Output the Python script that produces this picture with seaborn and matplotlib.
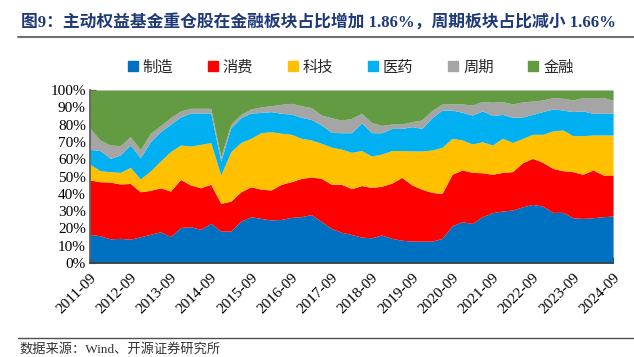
#!/usr/bin/env python3

import numpy as np
import matplotlib.pyplot as plt
import seaborn as sns
import pandas as pd
from matplotlib.lines import Line2D

# quarter labels 2011-09 ... 2024-09
quarters = [f'{y}-{m:02d}' for y in range(2011, 2025) for m in (3, 6, 9, 12)][2:-1]

sectors = ['制造', '消费', '科技', '医药', '周期', '金融']
colors = ['#0070C0', '#FF0000', '#FFC000', '#00B0F0', '#A5A5A5', '#629B42']

# share of holdings per sector (%)
manufacturing = [16.6, 15.8, 14.0, 14.3, 13.8, 15.2, 16.6, 18.1, 15.3, 20.6, 21.0, 19.5, 23.0, 18.5,
                 18.5, 24.3, 26.8, 25.8, 24.9, 25.2, 26.4, 26.8, 28.0, 24.0, 20.0, 17.8, 16.5, 15.0,
                 14.6, 16.2, 14.3, 13.2, 12.7, 12.7, 12.7, 14.3, 21.6, 23.9, 22.9, 26.8, 29.1, 30.1,
                 30.6, 32.5, 33.9, 32.9, 29.3, 29.3, 26.2, 25.8, 26.2, 26.8, 27.2]
consumer = [31.4, 31.2, 32.8, 31.4, 32.2, 26.0, 25.4, 25.4, 26.3, 27.7, 24.1, 24.0, 22.5, 16.0,
            17.3, 16.9, 17.3, 16.9, 17.3, 20.3, 20.6, 22.1, 21.7, 24.9, 25.5, 27.7, 26.5, 29.8,
            29.1, 28.2, 31.9, 36.3, 32.4, 29.9, 28.1, 26.0, 29.7, 29.9, 29.5, 25.4, 22.2, 22.3,
            22.2, 25.5, 26.6, 25.3, 25.4, 24.1, 26.6, 25.5, 27.6, 24.1, 23.7]
tech = [9.0, 6.4, 6.0, 6.7, 9.3, 7.4, 11.2, 15.5, 22.8, 19.9, 22.5, 25.1, 24.1, 16.4,
        28.6, 28.5, 28.0, 32.6, 33.7, 29.5, 27.4, 23.2, 21.4, 20.3, 21.5, 20.3, 21.0, 20.2,
        18.1, 18.6, 18.8, 15.5, 19.7, 22.2, 24.5, 26.6, 20.8, 17.3, 16.4, 17.9, 16.9, 19.7,
        16.9, 14.0, 13.9, 16.2, 21.6, 23.5, 20.8, 22.3, 20.2, 23.1, 23.1]
pharma = [8.7, 11.6, 7.7, 10.0, 12.9, 12.3, 16.9, 16.9, 15.8, 16.2, 19.1, 18.1, 17.1, 8.1,
          13.8, 14.3, 14.6, 11.7, 11.6, 11.5, 11.7, 12.1, 11.8, 10.6, 8.5, 9.5, 11.3, 16.0,
          13.5, 12.3, 12.8, 12.8, 14.0, 13.0, 18.7, 21.5, 16.3, 16.0, 16.7, 17.8, 17.0, 13.8,
          14.5, 12.4, 11.5, 13.1, 12.7, 11.5, 13.9, 14.3, 12.5, 12.5, 12.5]
cyclical = [12.1, 6.1, 7.7, 5.4, 4.8, 4.6, 4.9, 3.5, 3.8, 3.5, 2.7, 2.7, 2.7, 2.5,
            2.0, 1.9, 2.3, 3.2, 3.4, 5.2, 6.2, 6.7, 6.9, 5.7, 8.5, 7.2, 8.3, 5.5,
            5.8, 4.2, 2.5, 2.5, 2.9, 4.9, 4.2, 3.5, 3.5, 4.8, 5.8, 5.4, 7.7, 7.4,
            7.7, 8.7, 7.7, 6.7, 6.6, 6.8, 6.7, 7.7, 9.1, 9.2, 7.6]
finance = [22.2, 28.9, 31.8, 32.2, 27.0, 34.5, 25.0, 20.6, 16.0, 12.1, 10.6, 10.6, 10.6, 38.5,
           19.8, 14.1, 11.0, 9.8, 9.1, 8.3, 7.7, 9.1, 10.2, 14.5, 16.0, 17.5, 16.4, 13.5,
           18.9, 20.5, 19.7, 19.7, 18.3, 17.3, 11.8, 8.1, 8.1, 8.1, 8.7, 6.7, 7.1, 6.7,
           8.1, 6.9, 6.4, 5.8, 4.4, 4.8, 5.8, 4.4, 4.4, 4.3, 5.9]

df = pd.DataFrame({'date': quarters, '制造': manufacturing, '消费': consumer, '科技': tech,
                   '医药': pharma, '周期': cyclical, '金融': finance})

sns.set_theme(style='ticks')
plt.rcParams['font.family'] = ['Liberation Serif', 'Noto Sans CJK SC', 'DejaVu Sans']
plt.rcParams['axes.unicode_minus'] = False

fig = plt.figure(figsize=(6.34, 3.57), dpi=100)
ax = fig.add_axes([0.142, 0.263, 0.825, 0.485])

x = np.arange(len(df))
ax.stackplot(x, *[df[s] for s in sectors], colors=colors, linewidth=0)

ax.set_xlim(0, len(df) - 1)
ax.set_ylim(0, 100)
ax.set_yticks(range(0, 101, 10))
ax.set_yticklabels([f'{v}%' for v in range(0, 101, 10)], fontsize=11)
ax.set_xticks(x[::4])
ax.set_xticklabels(df['date'][::4], rotation=45, ha='right', rotation_mode='anchor', fontsize=11)
ax.tick_params(axis='both', direction='in', length=4, width=0.8, colors='#404040', pad=3)
ax.tick_params(axis='x', pad=6)
for lab in ax.get_xticklabels() + ax.get_yticklabels():
    lab.set_color('black')
ax.spines['top'].set_visible(False)
ax.spines['right'].set_visible(False)
ax.spines['left'].set_color('#595959')
ax.spines['bottom'].set_color('#404040')
ax.set_xlabel('')
ax.set_ylabel('')

handles = [Line2D([], [], marker='s', linestyle='', markersize=7, color=c) for c in colors]
fig.legend(handles, sectors, loc='center', bbox_to_anchor=(0.551, 0.812), ncol=6,
           frameon=False, handletextpad=0.15, columnspacing=2.1, handlelength=1.0,
           prop={'family': ['Noto Sans CJK SC'], 'size': 11})

# title and source lines
fig.text(0.033, 0.935, '图9：主动权益基金重仓股在金融板块占比增加 1.86%，周期板块占比减小 1.66%',
         fontsize=12.1, fontweight='bold', color='#1F3A7A', va='center', ha='left')
fig.add_artist(Line2D([0.028, 1.0], [0.895, 0.895], color='#707070', linewidth=1.5))
fig.add_artist(Line2D([0.028, 1.0], [0.052, 0.052], color='#505050', linewidth=1.0))
fig.text(0.03, 0.022, '数据来源：Wind、开源证券研究所', fontsize=9.5, color='#333333',
         va='center', ha='left')

fig.savefig('out.png', dpi=100)
plt.close(fig)
